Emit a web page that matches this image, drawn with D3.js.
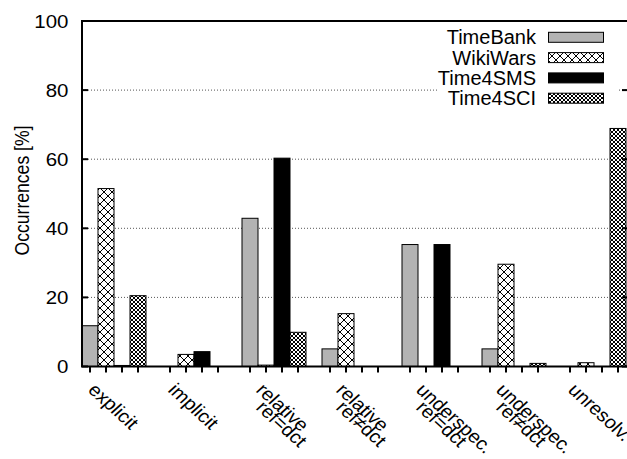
<!DOCTYPE html>
<html><head><meta charset="utf-8">
<script src="https://cdn.jsdelivr.net/npm/d3@7"></script>
<style>body{margin:0;background:#fff;overflow:hidden}</style>
</head><body>
<svg id="c" width="627" height="459"></svg>
<script>
const categories = ["explicit","implicit","relative\nref=dct","relative\nref≠dct","underspec.\nref=dct","underspec.\nref≠dct","unresolv."];
const seriesNames = ["TimeBank","WikiWars","Time4SMS","Time4SCI"];
const timeBank = [11.8, 0, 42.9, 5.1, 35.3, 5.1, 0];
const wikiWars = [51.5, 3.5, 0.4, 15.3, 0, 29.6, 1.1];
const time4SMS = [0.3, 4.3, 60.3, 0, 35.3, 0, 0];
const time4SCI = [20.5, 0, 9.9, 0, 0, 0.9, 68.9];
const yTicks = [0, 20, 40, 60, 80, 100];
const gridTicks = [20, 40, 60, 80];
const yLabel = "Occurrences [%]";

const series = [timeBank, wikiWars, time4SMS, time4SCI];
const FONT = "'Liberation Sans', Arial, Helvetica, sans-serif";
const SX = 1.1; // horizontal stretch of the reference's text
const svg = d3.select("#c");
const L = 82, R = 628, T = 21, B = 366.5;

const defs = svg.append("defs");
const pw = defs.append("pattern").attr("id","pWiki").attr("patternUnits","userSpaceOnUse")
  .attr("width",8).attr("height",8);
pw.append("rect").attr("width",8).attr("height",8).attr("fill","#fff");
pw.append("path").attr("d","M0,0L8,8M8,0L0,8M-1,7L1,9M7,-1L9,1M-1,1L1,-1M7,9L9,7")
  .attr("stroke","#000").attr("stroke-width",1).attr("fill","none");
const ps = defs.append("pattern").attr("id","pSci").attr("patternUnits","userSpaceOnUse")
  .attr("width",4).attr("height",4);
ps.append("rect").attr("width",4).attr("height",4).attr("fill","#fff");
ps.append("path").attr("d","M0,0L4,4M4,0L0,4M-1,3L1,5M3,-1L5,1M-1,1L1,-1M3,5L5,3")
  .attr("stroke","#000").attr("stroke-width",1).attr("fill","none");

const fills = ["#b3b3b3", "url(#pWiki)", "#000", "url(#pSci)"];

const x0 = d3.scaleBand().domain(categories).range([L, 626]).paddingInner(0.2).paddingOuter(0);
const x1 = d3.scaleBand().domain(seriesNames).range([0, x0.bandwidth()]).padding(0);
const y = d3.scaleLinear().domain([0, 100]).range([B, T]);

// grid
svg.append("g").selectAll("line").data(gridTicks).join("line")
  .attr("x1", L).attr("x2", R).attr("y1", d => y(d)).attr("y2", d => y(d))
  .attr("stroke", "#555").attr("stroke-width", 1).attr("stroke-dasharray", "1,2");

// bars
const gb = svg.append("g");
categories.forEach((c, i) => {
  series.forEach((s, j) => {
    const v = s[i];
    gb.append("rect")
      .attr("x", x0(c) + x1(seriesNames[j]))
      .attr("y", y(v))
      .attr("width", x1.bandwidth())
      .attr("height", y(0) - y(v))
      .attr("fill", fills[j])
      .attr("stroke", "#000").attr("stroke-width", 1);
  });
});

// frame
svg.append("path").attr("d", `M${L},${B}L${L},${T}L${R},${T}L${R},${B}Z`)
  .attr("fill","none").attr("stroke","#000").attr("stroke-width",2);

// y ticks (inward, mirrored)
const gy = svg.append("g");
yTicks.forEach(t => {
  gy.append("line").attr("x1", L).attr("x2", L + 6).attr("y1", y(t)).attr("y2", y(t))
    .attr("stroke","#000").attr("stroke-width",2);
  gy.append("line").attr("x1", R - 6).attr("x2", R).attr("y1", y(t)).attr("y2", y(t))
    .attr("stroke","#000").attr("stroke-width",2);
  gy.append("text").attr("transform", `translate(${L - 13.5},${y(t)}) scale(${SX},1)`)
    .attr("dy","0.36em")
    .attr("text-anchor","end").attr("font-family",FONT).attr("font-size",18.6).text(t);
});

// x ticks at each bar centre (outward)
const gx = svg.append("g");
categories.forEach(c => {
  seriesNames.forEach(s => {
    const xc = x0(c) + x1(s) + x1.bandwidth() / 2;
    gx.append("line").attr("x1", xc).attr("x2", xc).attr("y1", B).attr("y2", B + 6)
      .attr("stroke","#000").attr("stroke-width",2);
  });
});

// x labels rotated
categories.forEach(c => {
  const lines = c.split("\n");
  const gc = x0(c) + x0.bandwidth() / 2;
  const sx = gc + (lines.length === 1 ? -27 : -19);
  lines.forEach((ln, k) => {
    const sy = B + 24.5 + k * 17.5;
    svg.append("text").attr("transform", `translate(${sx},${sy}) scale(${SX},1) rotate(45)`)
      .attr("text-anchor","start").attr("font-family",FONT).attr("font-size",18.2).text(ln);
  });
});

// y label
svg.append("text").attr("transform", `translate(28.5,190.5) scale(1.15,1) rotate(-90)`)
  .attr("text-anchor","middle").attr("font-family",FONT).attr("font-size",17.6).text(yLabel);

// legend
const lg = svg.append("g");
lg.append("rect").attr("x",437).attr("y",26).attr("width",180).attr("height",84).attr("fill","#fff");
seriesNames.forEach((s, j) => {
  const by = 44.3 + j * 20.3;
  lg.append("text").attr("x", 536).attr("y", by).attr("text-anchor","end")
    .attr("font-family",FONT).attr("font-size",20).text(s);
  lg.append("rect").attr("x", 548.5).attr("y", by - 12).attr("width", 55).attr("height", 10)
    .attr("fill", fills[j]).attr("stroke","#000").attr("stroke-width",1);
});
</script>
</body></html>
